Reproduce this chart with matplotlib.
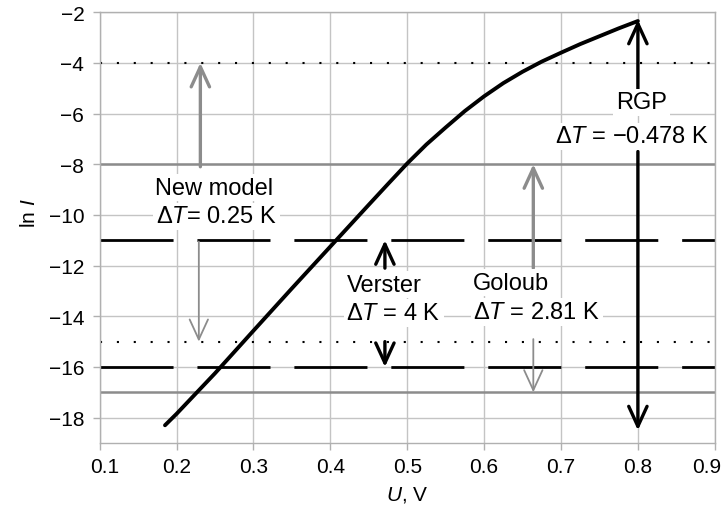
import matplotlib
matplotlib.use('Agg')
import matplotlib.pyplot as plt
from matplotlib.transforms import ScaledTranslation

plt.rcParams['font.family'] = ['Liberation Sans', 'DejaVu Sans']
plt.rcParams['mathtext.fontset'] = 'custom'
plt.rcParams['mathtext.rm'] = 'Liberation Sans'
plt.rcParams['mathtext.it'] = 'Liberation Sans:italic'

# I-V curve (U in V, ln I)
u_curve = [0.185, 0.2, 0.25, 0.3, 0.35, 0.4, 0.45, 0.475, 0.5, 0.525, 0.55, 0.575,
           0.6, 0.625, 0.65, 0.675, 0.7, 0.725, 0.75, 0.775, 0.8]
ln_i = [-18.3, -17.85, -16.25, -14.57, -12.9, -11.25, -9.6, -8.78, -7.97, -7.22,
        -6.55, -5.9, -5.32, -4.8, -4.35, -3.95, -3.6, -3.26, -2.95, -2.64, -2.35]

# reference levels
dotted_levels = [-4, -15]
gray_levels = [-8, -17]
dashed_levels = [-11, -16]

# arrows: (x, tail, head, colour, thick)
arrows = [
    (0.231, -8.1, -4, 'gray', True),
    (0.229, -11.05, -15, 'gray', False),
    (0.471, -12.1, -11, 'black', True),
    (0.471, -15.0, -16, 'black', True),
    (0.664, -12.1, -8, 'gray', True),
    (0.664, -14.9, -17, 'gray', False),
    (0.8, -5.05, -2.3, 'black', True),
    (0.8, -7.5, -18.5, 'black', True),
]

x_ticks = [0.1, 0.2, 0.3, 0.4, 0.5, 0.6, 0.7, 0.8, 0.9]
y_ticks = [-18, -16, -14, -12, -10, -8, -6, -4, -2]

fig = plt.figure(figsize=(7.22, 5.06), dpi=100)
ax = fig.add_axes([0.138, 0.1225, 0.852, 0.8515])

ax.set_xlim(0.1, 0.9)
ax.set_ylim(-19, -2)
ax.set_xticks(x_ticks)
ax.set_yticks(y_ticks)
ax.set_xticklabels([f'{t:.1f}' for t in x_ticks])
ax.grid(True, color='#c4c4c4', lw=1.0)
ax.set_axisbelow(True)
for s in ax.spines.values():
    s.set_color('#b0b0b0')
    s.set_linewidth(1.0)
ax.tick_params(colors='#b0b0b0', labelcolor='black', labelsize=15, length=5, width=1)
ax.tick_params(axis='y', pad=6)
ax.tick_params(axis='x', pad=5)

# nudge the end labels inward like the original
labels = ax.get_xticklabels()
labels[0].set_transform(labels[0].get_transform() +
                        ScaledTranslation(0.05, 0, fig.dpi_scale_trans))
labels[-1].set_transform(labels[-1].get_transform() +
                         ScaledTranslation(-0.08, 0, fig.dpi_scale_trans))

xs = [0.1, 0.9]
for lv in dotted_levels:
    ax.plot(xs, [lv, lv], color='black', lw=1.5, linestyle=(0, (1, 7.1)), zorder=2)
for lv in gray_levels:
    ax.plot(xs, [lv, lv], color='#8c8c8c', lw=1.8, zorder=2)
for lv in dashed_levels:
    ax.plot(xs, [lv, lv], color='black', lw=2.0, linestyle=(0, (26.3, 8.6)), zorder=2)

ax.plot(u_curve, ln_i, color='black', lw=2.8, zorder=3,
        solid_capstyle='round', solid_joinstyle='round')

for x, tail, head, col, thick in arrows:
    c = '#8c8c8c' if col == 'gray' else 'black'
    lw = 2.4 if thick else 1.3
    ax.annotate('', xy=(x, head), xytext=(x, tail),
                arrowprops=dict(arrowstyle='->,head_length=0.72,head_width=0.33',
                                lw=lw, color=c, shrinkA=0, shrinkB=0,
                                mutation_scale=20),
                zorder=4)

box = dict(facecolor='white', edgecolor='none', pad=2)
fs = 17
ax.text(0.249, -8.92, 'New model', ha='center', va='center', fontsize=fs, bbox=box, zorder=5)
ax.text(0.252, -10.06, r'$\Delta T$= 0.25 K', ha='center', va='center', fontsize=fs, bbox=box, zorder=5)
ax.text(0.421, -12.75, 'Verster', ha='left', va='center', fontsize=fs, bbox=box, zorder=5)
ax.text(0.421, -13.86, r'$\Delta T$ = 4 K', ha='left', va='center', fontsize=fs, bbox=box, zorder=5)
ax.text(0.586, -12.67, 'Goloub', ha='left', va='center', fontsize=fs, bbox=box, zorder=5)
ax.text(0.586, -13.82, r'$\Delta T$ = 2.81 K', ha='left', va='center', fontsize=fs, bbox=box, zorder=5)
ax.text(0.805, -5.56, 'RGP', ha='center', va='center', fontsize=fs, bbox=box, zorder=5)
ax.text(0.792, -6.9, '$\\Delta T$ = \u22120.478 K', ha='center', va='center', fontsize=fs, bbox=box, zorder=5)

ax.set_xlabel(r'$U$, V', fontsize=15, labelpad=6)
ax.set_ylabel(r'ln $I$', fontsize=15)
ax.yaxis.set_label_coords(-0.099, 0.536)

fig.savefig('out.png', dpi=100)
